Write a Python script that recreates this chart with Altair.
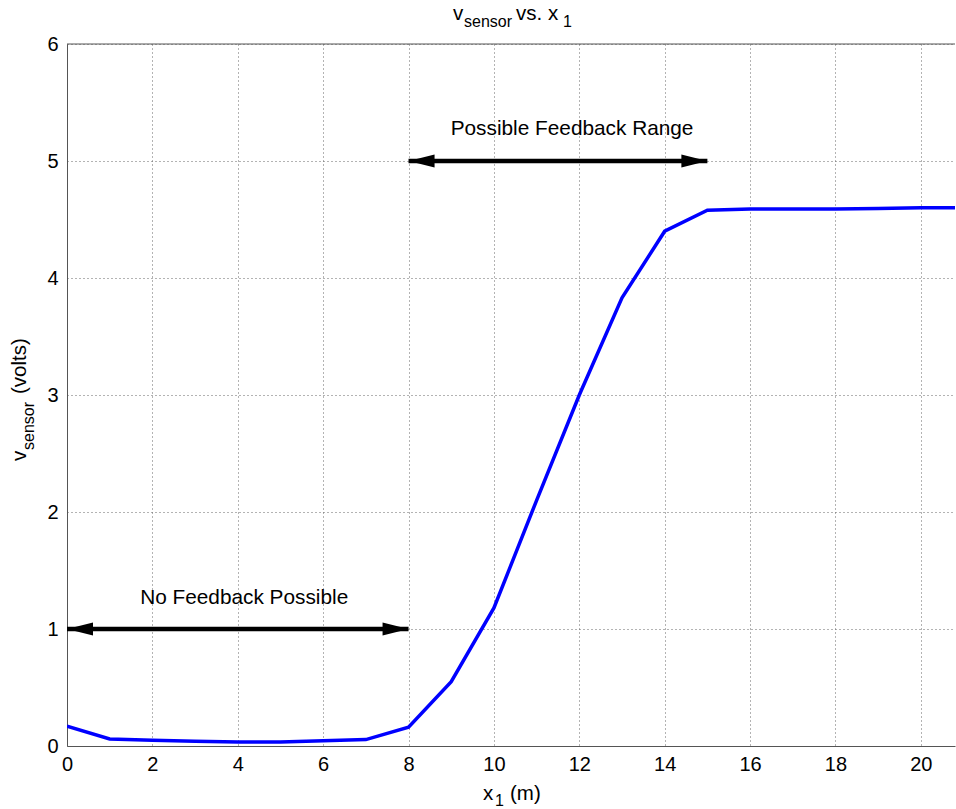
import altair as alt
import pandas as pd

# ---- data ----
x_pos = [0, 1, 2, 3, 4, 5, 6, 7, 8, 9, 10, 11, 12, 13, 14, 15, 16, 17, 18, 19, 20, 21]
v_sensor = [0.17, 0.06, 0.05, 0.04, 0.035, 0.035, 0.045, 0.055, 0.16, 0.55, 1.18, 2.1,
            3.0, 3.83, 4.40, 4.58, 4.59, 4.59, 4.59, 4.595, 4.60, 4.60]

arrow_start = [0, 8]
arrow_end = [8, 15]
arrow_level = [1, 5]

note_text = ["No Feedback Possible", "Possible Feedback Range"]
note_x = [4.15, 11.83]
note_y = [1.21, 5.22]

x_ticks = [0, 2, 4, 6, 8, 10, 12, 14, 16, 18, 20]
y_ticks = [0, 1, 2, 3, 4, 5, 6]
x_domain = [0, 20.8]
y_domain = [0, 6]

FONT = "Liberation Sans"
W, H = 888, 702
FS = 20.5
SUB = 16

curve = pd.DataFrame({"x": x_pos, "y": v_sensor})
arrows = pd.DataFrame({"x": arrow_start, "x2": arrow_end, "y": arrow_level})
notes = pd.DataFrame({"x": note_x, "y": note_y, "label": note_text})

xs = alt.Scale(domain=x_domain, nice=False, zero=False)
ys = alt.Scale(domain=y_domain, nice=False, zero=False)

axis_common = dict(
    grid=True, gridDash=[1, 3], gridColor="#666666", gridWidth=1,
    domainColor="#555555", domainWidth=1, tickSize=0, labelFlush=False,
    labelFont=FONT, labelFontSize=20, labelColor="black", title=None,
)

line = alt.Chart(curve).mark_line(color="#0000ff", strokeWidth=3.5, clip=True).encode(
    x=alt.X("x:Q", scale=xs, axis=alt.Axis(values=x_ticks, format="d", labelPadding=8, **axis_common)),
    y=alt.Y("y:Q", scale=ys, axis=alt.Axis(values=y_ticks, format="d", labelPadding=9, **axis_common)),
)

rules = alt.Chart(arrows).mark_rule(color="black", strokeWidth=4.5).encode(
    x=alt.X("x:Q", title=None), x2="x2:Q", y=alt.Y("y:Q", title=None)
)

head_left = alt.Chart(arrows).mark_point(
    shape="M0,0L2,-0.5L2,0.5Z", filled=True, size=676, color="black", opacity=1, strokeWidth=0
).encode(x=alt.X("x:Q", title=None), y=alt.Y("y:Q", title=None))

head_right = alt.Chart(arrows).mark_point(
    shape="M0,0L-2,-0.5L-2,0.5Z", filled=True, size=676, color="black", opacity=1, strokeWidth=0
).encode(x=alt.X("x2:Q", title=None), y=alt.Y("y:Q", title=None))

note_layer = alt.Chart(notes).mark_text(
    font=FONT, fontSize=20.8, color="black", align="center", baseline="alphabetic"
).encode(x=alt.X("x:Q", title=None), y=alt.Y("y:Q", title=None), text="label:N")

top_border = alt.Chart().mark_rule(color="#555555", strokeWidth=1).encode(
    x=alt.value(0), x2=alt.value(W), y=alt.value(0)
)


def txt(s, px, py, size=FS, angle=0):
    kw = dict(text=s, font=FONT, fontSize=size, color="black", align="left", baseline="alphabetic")
    if angle:
        kw["angle"] = angle
    return alt.Chart().mark_text(**kw).encode(x=alt.value(px), y=alt.value(py))


# title: v_sensor vs. x_1  (positions relative to plot origin)
title_parts = [
    txt("v", 386, -24),
    txt("sensor", 397, -17, SUB),
    txt("vs. x", 449, -24),
    txt("1", 496, -17, SUB),
]
# x label: x_1 (m)
xlabel_parts = [
    txt("x", 416, 756),
    txt("1", 428, 762, SUB),
    txt("(m)", 443, 756),
]
# y label: v_sensor (volts), rotated
ylabel_parts = [
    txt("v", -41, 417, FS, 270),
    txt("sensor", -33, 406, SUB, 270),
    txt("(volts)", -41, 350, FS, 270),
]

chart = alt.layer(
    line, rules, head_left, head_right, note_layer, top_border,
    *title_parts, *xlabel_parts, *ylabel_parts
).properties(
    width=W, height=H,
    padding={"left": 67, "top": 44, "right": 1, "bottom": 63},
    autosize="none",
    background="white",
).configure_view(stroke=None)

chart.save("out.html", embed_options={"renderer": "svg", "actions": False})
